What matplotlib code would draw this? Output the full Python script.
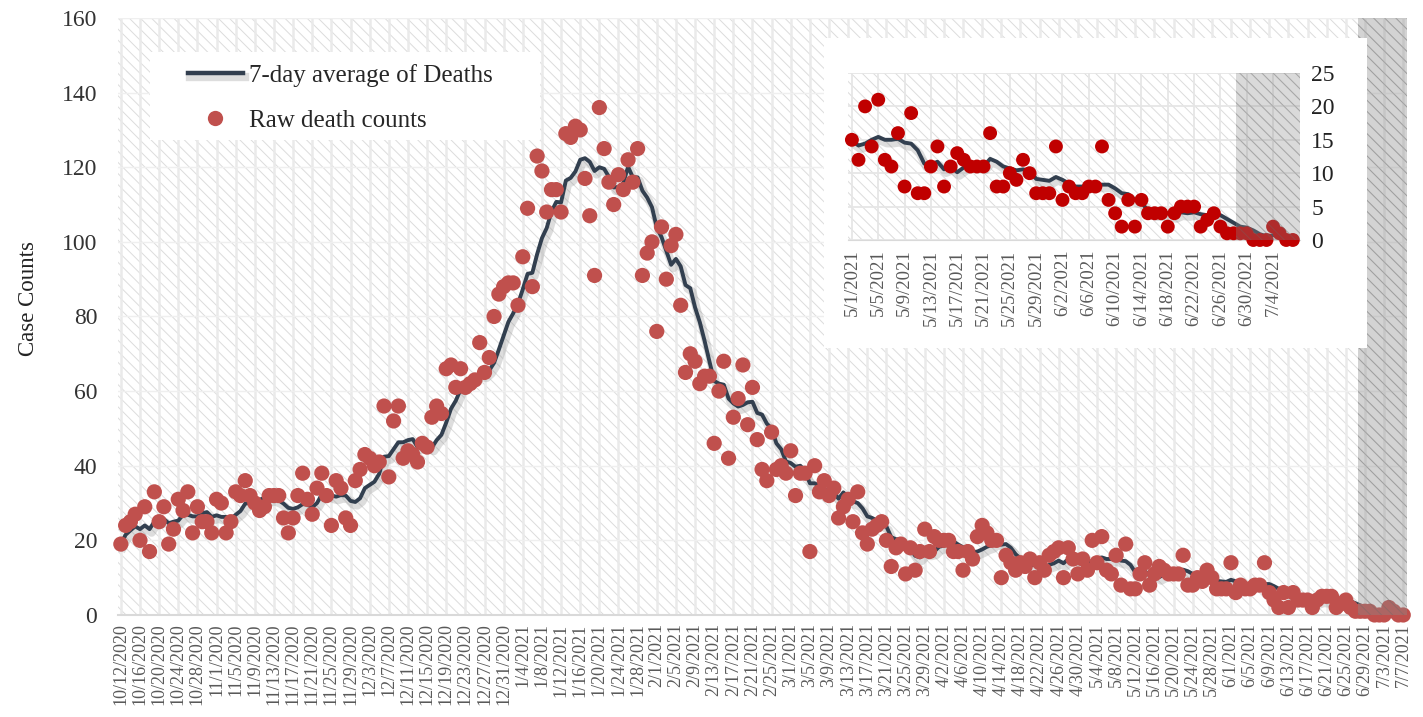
import matplotlib
matplotlib.use("Agg")
import matplotlib.pyplot as plt
import matplotlib.patheffects as pe
from matplotlib.patches import Rectangle
from matplotlib.lines import Line2D
import numpy as np
import pandas as pd

plt.rcParams["font.family"] = ["Liberation Serif", "DejaVu Serif"]
plt.rcParams["hatch.linewidth"] = 0.7

START_DATE = "2020-10-12"

# daily raw death counts, 10/12/2020 .. 7/7/2021
raw_deaths = [
    19, 24, 25, 27, 20, 29, 17, 33, 25, 29, 19, 23, 31, 28, 33, 22, 29, 25, 25, 22,
    31, 30, 22, 25, 33, 32, 36, 32, 30, 28, 29, 32, 32, 32, 26, 22, 26, 32, 38, 31,
    27, 34, 38, 32, 24, 36, 34, 26, 24, 36, 39, 43, 42, 40, 41, 56, 37, 52, 56, 42,
    44, 43, 41, 46, 45, 53, 56, 54, 66, 67, 61, 66, 61, 62, 63, 73, 65, 69, 80, 86,
    88, 89, 89, 83, 96, 109, 88, 123, 119, 108, 114, 114, 108, 129, 128, 131, 130, 117, 107, 91,
    136, 125, 116, 110, 118, 114, 122, 116, 125, 91, 97, 100, 76, 104, 90, 99, 102, 83, 65, 70,
    68, 62, 64, 64, 46, 60, 68, 42, 53, 58, 67, 51, 61, 47, 39, 36, 49, 39, 40, 38,
    44, 32, 38, 38, 17, 40, 33, 36, 32, 34, 26, 29, 31, 25, 33, 22, 19, 23, 24, 25,
    20, 13, 18, 19, 11, 18, 12, 17, 23, 17, 21, 20, 20, 20, 17, 17, 12, 17, 15, 21,
    24, 22, 20, 20, 10, 16, 14, 12, 14, 13, 15, 10, 14, 12, 16, 17, 18, 10, 18, 15,
    11,
    # 5/1/2021 onward (also shown in the inset)
    15, 12, 20, 14, 21, 12, 11, 16, 8, 19, 7, 7, 11, 14, 8, 11, 13, 12, 11, 11,
    11, 16, 8, 8, 10, 9, 12, 10, 7, 7, 7, 14, 6, 8, 7, 7, 8, 8, 14, 6,
    4, 2, 6, 2, 6, 4, 4, 4, 2, 4, 5, 5, 5, 2, 3, 4, 2, 1, 1, 1,
    1, 0, 0, 0, 2, 1, 0, 0,
]

dates = pd.date_range(START_DATE, periods=len(raw_deaths), freq="D")
labels = [f"{d.month}/{d.day}/{d.year}" for d in dates]
avg_deaths = pd.Series(raw_deaths).rolling(7, min_periods=1).mean().to_numpy()
days = np.arange(len(raw_deaths))

inset_start = labels.index("5/1/2021")

LINE_COLOR = "#323F4F"
DOT_COLOR = "#C0504D"
INSET_DOT = "#C00000"
TICK_GRAY = "#595959"
HATCH = "\\\\\\"

shadow = [pe.SimpleLineShadow(offset=(1.5, -2.5), shadow_color="#8F8F8F", alpha=0.3, linewidth=6),
          pe.Normal()]

fig = plt.figure(figsize=(14.23, 7.17), dpi=100)

# ---------------- main chart ----------------
ax = fig.add_axes([0.0829, 0.1423, 0.9059, 0.8326])
ax.add_patch(Rectangle((0, 0), 1, 1, transform=ax.transAxes, facecolor="white",
                       edgecolor="#DCDCDC", hatch=HATCH, lw=0, zorder=0))
ax.set_axisbelow(True)
ax.grid(axis="x", color="#EAEAEA", lw=1.8)
ax.grid(axis="y", color="#EFEFEF", lw=1.0)

ax.plot(days, avg_deaths, color=LINE_COLOR, lw=2.8, zorder=3, path_effects=shadow)
ax.scatter(days, raw_deaths, s=120, color=DOT_COLOR, edgecolors="none", zorder=4,
           clip_on=False)
ax.axvspan(258.5, 268.8, facecolor="#8C8C8C", edgecolor="#6A6A6A", hatch=HATCH,
           lw=0, alpha=0.38, zorder=5)

ax.set_xlim(-0.6, 268.8)
ax.set_ylim(0, 160)
ax.set_yticks(range(0, 161, 20))
ax.set_xticks(days[::4])
ax.set_xticklabels(labels[::4], rotation=90, fontsize=13, color=TICK_GRAY)
ax.tick_params(axis="x", length=0, pad=6)
ax.tick_params(axis="y", length=0, pad=15, labelsize=17, labelcolor="#333333")
for side in ("left", "right", "top"):
    ax.spines[side].set_visible(False)
ax.spines["bottom"].set_color("#D9D9D9")
ax.spines["bottom"].set_linewidth(1.5)
ax.set_ylabel("Case Counts", fontsize=16.5, color="#222222")
ax.yaxis.set_label_coords(-0.061, 0.53)

# legend on its own white panel
ax.add_patch(Rectangle(((150 - 118) / 1289, (615 - 140) / 597), 390 / 1289, 88 / 597,
                       transform=ax.transAxes, facecolor="white", lw=0, zorder=6))
handles = [
    Line2D([], [], color=LINE_COLOR, lw=3.2, path_effects=shadow),
    Line2D([], [], ls="none", marker="o", ms=11, color=DOT_COLOR, mec="none"),
]
leg = ax.legend(handles, ["7-day average of Deaths", "Raw death counts"],
                loc="upper left", bbox_to_anchor=((188 - 118) / 1289, (615 - 64) / 597),
                fontsize=18, frameon=False, handlelength=2.2, handletextpad=0.25,
                borderpad=0, labelspacing=0.9, borderaxespad=0)
leg.set_zorder(7)
for t in leg.get_texts():
    t.set_color("#262626")

# ---------------- inset ----------------
box = fig.add_axes([0.5791, 0.5146, 0.3816, 0.4324])
box.set_facecolor("white")
box.set_xticks([])
box.set_yticks([])
for s in box.spines.values():
    s.set_visible(False)

ins = fig.add_axes([0.5959, 0.6653, 0.3177, 0.2329])
ins.add_patch(Rectangle((0, 0), 1, 1, transform=ins.transAxes, facecolor="white",
                        edgecolor="#DCDCDC", hatch=HATCH, lw=0, zorder=0))
ins.set_axisbelow(True)
ins.grid(color="#E6E6E6", lw=1.3)

ix = days[inset_start:]
ins.plot(ix, avg_deaths[inset_start:], color=LINE_COLOR, lw=2.8, zorder=3, path_effects=shadow)
ins.scatter(ix, raw_deaths[inset_start:], s=100, color=INSET_DOT, edgecolors="none",
            zorder=4, clip_on=False)
ins.axvspan(259.4, 269.1, facecolor="#8C8C8C", edgecolor="#6A6A6A", hatch=HATCH,
            lw=0, alpha=0.32, zorder=5)

ins.set_xlim(inset_start - 0.6, 269.1)
ins.set_ylim(0, 25)
ins.set_yticks(range(0, 26, 5))
ins.set_xticks(ix[::4])
ins.set_xticklabels(labels[inset_start::4], rotation=90, fontsize=13.5, color=TICK_GRAY)
ins.yaxis.tick_right()
ins.tick_params(axis="x", length=0, pad=7)
ins.tick_params(axis="y", length=0, pad=8, labelsize=17, labelcolor="#222222")
for side in ("left", "right", "top"):
    ins.spines[side].set_visible(False)
ins.spines["bottom"].set_color("#D9D9D9")

fig.savefig("out.png", dpi=100, facecolor="white")
